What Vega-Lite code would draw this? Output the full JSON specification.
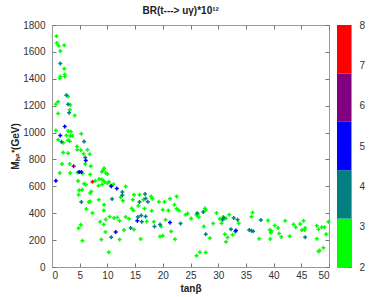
{
 "$schema": "https://vega.github.io/schema/vega-lite/v6.json",
 "background": "white",
 "padding": {"left": 10, "top": 5, "right": 4, "bottom": 0},
 "title": {"text": "BR(t---> uγ)*10¹²", "fontSize": 10, "fontWeight": "bold", "font": "Liberation Sans", "color": "#222", "anchor": "middle", "dx": -7, "offset": 4},
 "config": {"view": {"stroke": "#999", "strokeWidth": 1}, "font": "Liberation Sans", "concat": {"spacing": 2},
   "axis": {"labelFont": "Liberation Sans", "labelFontSize": 10, "labelColor": "#333", "tickColor": "#777", "domainColor": "#999", "grid": false, "titleFont": "Liberation Sans", "titleFontSize": 10, "titleFontWeight": "bold", "titleColor": "#222"}},
 "hconcat": [
  {
   "width": 277, "height": 242,
   "data": {"values": [
{"tanb":0.8,"mh":1716,"c":"g"},{"tanb":0.85,"mh":1666,"c":"g"},{"tanb":1.2,"mh":1646,"c":"g"},{"tanb":2.2,"mh":1649,"c":"g"},{"tanb":1.5,"mh":1606,"c":"g"},
{"tanb":2.2,"mh":1474,"c":"g"},{"tanb":2.3,"mh":1432,"c":"g"},{"tanb":2.3,"mh":1417,"c":"g"},{"tanb":1.5,"mh":1417,"c":"g"},{"tanb":1.4,"mh":1404,"c":"g"},
{"tanb":2.9,"mh":1268,"c":"g"},{"tanb":1.1,"mh":1230,"c":"g"},{"tanb":0.7,"mh":1210,"c":"g"},{"tanb":3.3,"mh":1205,"c":"g"},{"tanb":3.2,"mh":1170,"c":"g"},{"tanb":1.1,"mh":1141,"c":"g"},
{"tanb":4.1,"mh":1126,"c":"g"},{"tanb":0.7,"mh":1016,"c":"g"},{"tanb":2.9,"mh":1011,"c":"g"},{"tanb":3.4,"mh":1006,"c":"g"},{"tanb":5.3,"mh":991,"c":"g"},{"tanb":2.6,"mh":979,"c":"g"},{"tanb":3.3,"mh":974,"c":"g"},{"tanb":3.7,"mh":974,"c":"g"},
{"tanb":1.1,"mh":946,"c":"g"},{"tanb":2.0,"mh":924,"c":"g"},{"tanb":2.9,"mh":943,"c":"g"},{"tanb":3.2,"mh":936,"c":"g"},{"tanb":4.5,"mh":896,"c":"g"},{"tanb":4.55,"mh":872,"c":"g"},{"tanb":5.2,"mh":869,"c":"g"},{"tanb":6.4,"mh":872,"c":"g"},
{"tanb":2.0,"mh":852,"c":"g"},{"tanb":2.9,"mh":846,"c":"g"},{"tanb":5.7,"mh":842,"c":"g"},{"tanb":6.8,"mh":839,"c":"g"},{"tanb":6.0,"mh":767,"c":"g"},{"tanb":1.8,"mh":767,"c":"g"},{"tanb":3.2,"mh":767,"c":"g"},
{"tanb":1.4,"mh":700,"c":"g"},{"tanb":3.3,"mh":700,"c":"g"},{"tanb":4.6,"mh":702,"c":"g"},{"tanb":5.5,"mh":695,"c":"g"},{"tanb":7.0,"mh":750,"c":"g"},{"tanb":6.9,"mh":688,"c":"g"},
{"tanb":9.4,"mh":735,"c":"g"},{"tanb":9.2,"mh":719,"c":"g"},{"tanb":9.0,"mh":708,"c":"g"},{"tanb":9.7,"mh":700,"c":"g"},{"tanb":10.0,"mh":692,"c":"g"},
{"tanb":4.7,"mh":640,"c":"g"},{"tanb":7.8,"mh":642,"c":"g"},{"tanb":8.5,"mh":655,"c":"g"},{"tanb":8.9,"mh":650,"c":"g"},{"tanb":9.2,"mh":645,"c":"g"},{"tanb":5.8,"mh":620,"c":"g"},{"tanb":6.1,"mh":613,"c":"g"},{"tanb":8.4,"mh":605,"c":"g"},{"tanb":9.05,"mh":613,"c":"g"},{"tanb":9.5,"mh":633,"c":"g"},{"tanb":10.0,"mh":625,"c":"g"},
{"tanb":10.3,"mh":635,"c":"g"},{"tanb":11.1,"mh":615,"c":"g"},{"tanb":10.6,"mh":607,"c":"g"},{"tanb":13.3,"mh":598,"c":"g"},
{"tanb":4.9,"mh":570,"c":"g"},{"tanb":5.45,"mh":575,"c":"g"},{"tanb":7.1,"mh":562,"c":"g"},{"tanb":6.9,"mh":550,"c":"g"},{"tanb":4.8,"mh":538,"c":"g"},{"tanb":6.65,"mh":483,"c":"g"},{"tanb":6.9,"mh":488,"c":"g"},{"tanb":8.45,"mh":500,"c":"g"},{"tanb":9.4,"mh":463,"c":"g"},
{"tanb":12.4,"mh":518,"c":"g"},{"tanb":12.8,"mh":493,"c":"g"},{"tanb":14.8,"mh":538,"c":"g"},{"tanb":15.8,"mh":538,"c":"g"},{"tanb":14.6,"mh":500,"c":"g"},{"tanb":16.5,"mh":500,"c":"g"},{"tanb":17.9,"mh":525,"c":"g"},{"tanb":18.1,"mh":508,"c":"g"},
{"tanb":16.7,"mh":436,"c":"g"},{"tanb":15.6,"mh":456,"c":"g"},{"tanb":14.4,"mh":436,"c":"g"},{"tanb":6.2,"mh":431,"c":"g"},{"tanb":7.3,"mh":401,"c":"g"},{"tanb":9.35,"mh":421,"c":"g"},
{"tanb":10.4,"mh":373,"c":"g"},{"tanb":11.2,"mh":364,"c":"g"},{"tanb":11.8,"mh":369,"c":"g"},{"tanb":12.2,"mh":344,"c":"g"},{"tanb":13.9,"mh":359,"c":"g"},{"tanb":17.1,"mh":338,"c":"g"},{"tanb":18.4,"mh":336,"c":"g"},{"tanb":20.5,"mh":351,"c":"g"},
{"tanb":18.0,"mh":418,"c":"g"},{"tanb":19.3,"mh":486,"c":"g"},{"tanb":20.3,"mh":483,"c":"g"},{"tanb":21.3,"mh":508,"c":"g"},{"tanb":22.5,"mh":525,"c":"g"},{"tanb":22.1,"mh":463,"c":"g"},
{"tanb":22.5,"mh":433,"c":"g"},{"tanb":22.9,"mh":421,"c":"g"},{"tanb":24.1,"mh":388,"c":"g"},{"tanb":24.5,"mh":398,"c":"g"},{"tanb":25.1,"mh":361,"c":"g"},{"tanb":20.0,"mh":426,"c":"g"},{"tanb":21.0,"mh":421,"c":"g"},
{"tanb":19.7,"mh":301,"c":"g"},{"tanb":19.5,"mh":226,"c":"g"},{"tanb":20.0,"mh":232,"c":"g"},{"tanb":21.5,"mh":264,"c":"g"},{"tanb":22.2,"mh":207,"c":"g"},{"tanb":14.7,"mh":421,"c":"g"},{"tanb":13.3,"mh":371,"c":"g"},
{"tanb":9.7,"mh":353,"c":"g"},{"tanb":8.7,"mh":336,"c":"g"},{"tanb":9.35,"mh":316,"c":"g"},{"tanb":5.2,"mh":314,"c":"g"},{"tanb":4.8,"mh":289,"c":"g"},{"tanb":9.65,"mh":261,"c":"g"},{"tanb":13.0,"mh":276,"c":"g"},{"tanb":14.8,"mh":279,"c":"g"},
{"tanb":8.9,"mh":204,"c":"g"},{"tanb":12.2,"mh":204,"c":"g"},{"tanb":16.0,"mh":209,"c":"g"},{"tanb":5.5,"mh":196,"c":"g"},{"tanb":10.25,"mh":110,"c":"g"},
{"tanb":26.1,"mh":386,"c":"g"},{"tanb":26.3,"mh":394,"c":"g"},{"tanb":26.5,"mh":371,"c":"g"},{"tanb":27.6,"mh":436,"c":"g"},{"tanb":27.75,"mh":424,"c":"g"},{"tanb":27.4,"mh":301,"c":"g"},{"tanb":28.5,"mh":214,"c":"g"},{"tanb":29.1,"mh":323,"c":"g"},
{"tanb":29.7,"mh":401,"c":"g"},{"tanb":30.3,"mh":359,"c":"g"},{"tanb":30.9,"mh":371,"c":"g"},{"tanb":30.6,"mh":326,"c":"g"},{"tanb":31.4,"mh":361,"c":"g"},{"tanb":32.0,"mh":388,"c":"g"},{"tanb":31.2,"mh":244,"c":"g"},{"tanb":31.7,"mh":219,"c":"g"},{"tanb":31.4,"mh":187,"c":"g"},
{"tanb":32.6,"mh":239,"c":"g"},{"tanb":33.7,"mh":326,"c":"g"},{"tanb":26.1,"mh":84,"c":"g"},{"tanb":26.7,"mh":110,"c":"g"},{"tanb":27.75,"mh":107,"c":"g"},
{"tanb":36.0,"mh":374,"c":"g"},{"tanb":36.2,"mh":406,"c":"g"},{"tanb":37.4,"mh":211,"c":"g"},{"tanb":39.0,"mh":346,"c":"g"},{"tanb":39.4,"mh":209,"c":"g"},{"tanb":39.3,"mh":276,"c":"g"},{"tanb":39.6,"mh":269,"c":"g"},{"tanb":39.5,"mh":254,"c":"g"},
{"tanb":40.2,"mh":309,"c":"g"},{"tanb":40.8,"mh":291,"c":"g"},{"tanb":41.0,"mh":249,"c":"g"},{"tanb":41.4,"mh":224,"c":"g"},{"tanb":42.1,"mh":344,"c":"g"},{"tanb":42.9,"mh":229,"c":"g"},{"tanb":43.6,"mh":316,"c":"g"},{"tanb":44.0,"mh":296,"c":"g"},
{"tanb":44.8,"mh":319,"c":"g"},{"tanb":45.1,"mh":276,"c":"g"},{"tanb":45.4,"mh":344,"c":"g"},{"tanb":45.6,"mh":276,"c":"g"},{"tanb":45.7,"mh":291,"c":"g"},{"tanb":47.8,"mh":306,"c":"g"},{"tanb":48.1,"mh":281,"c":"g"},{"tanb":47.8,"mh":211,"c":"g"},
{"tanb":48.7,"mh":296,"c":"g"},{"tanb":49.2,"mh":296,"c":"g"},{"tanb":49.5,"mh":244,"c":"g"},{"tanb":49.9,"mh":336,"c":"g"},{"tanb":48.1,"mh":115,"c":"g"},{"tanb":48.3,"mh":122,"c":"g"},{"tanb":49.0,"mh":144,"c":"g"},
{"tanb":1.5,"mh":1514,"c":"t"},{"tanb":2.6,"mh":1277,"c":"t"},{"tanb":2.9,"mh":1210,"c":"t"},{"tanb":3.1,"mh":1148,"c":"t"},{"tanb":1.7,"mh":931,"c":"t"},{"tanb":5.8,"mh":934,"c":"t"},{"tanb":6.0,"mh":814,"c":"t"},
{"tanb":5.3,"mh":483,"c":"t"},{"tanb":10.85,"mh":505,"c":"t"},{"tanb":12.7,"mh":558,"c":"t"},{"tanb":12.7,"mh":533,"c":"t"},{"tanb":16.8,"mh":543,"c":"t"},{"tanb":16.9,"mh":510,"c":"t"},{"tanb":15.8,"mh":483,"c":"t"},{"tanb":17.3,"mh":486,"c":"t"},
{"tanb":15.5,"mh":371,"c":"t"},{"tanb":16.1,"mh":383,"c":"t"},{"tanb":16.9,"mh":376,"c":"t"},{"tanb":16.2,"mh":336,"c":"t"},{"tanb":18.5,"mh":301,"c":"t"},{"tanb":19.5,"mh":316,"c":"t"},{"tanb":23.2,"mh":323,"c":"t"},{"tanb":14.2,"mh":291,"c":"t"},{"tanb":10.7,"mh":222,"c":"t"},
{"tanb":26.2,"mh":400,"c":"t"},{"tanb":27.3,"mh":409,"c":"t"},{"tanb":27.75,"mh":244,"c":"t"},{"tanb":30.8,"mh":351,"c":"t"},{"tanb":31.0,"mh":366,"c":"t"},{"tanb":32.3,"mh":281,"c":"t"},{"tanb":32.8,"mh":364,"c":"t"},{"tanb":33.1,"mh":264,"c":"t"},{"tanb":33.5,"mh":351,"c":"t"},
{"tanb":35.6,"mh":276,"c":"t"},{"tanb":36.0,"mh":269,"c":"t"},{"tanb":36.3,"mh":266,"c":"t"},{"tanb":37.7,"mh":349,"c":"t"},{"tanb":45.7,"mh":222,"c":"t"},
{"tanb":2.3,"mh":1045,"c":"b"},{"tanb":1.5,"mh":979,"c":"b"},{"tanb":6.1,"mh":792,"c":"b"},{"tanb":4.9,"mh":707,"c":"b"},{"tanb":5.3,"mh":707,"c":"b"},{"tanb":0.7,"mh":642,"c":"b"},{"tanb":10.7,"mh":600,"c":"b"},{"tanb":11.7,"mh":583,"c":"b"},
{"tanb":15.4,"mh":344,"c":"b"},{"tanb":21.3,"mh":331,"c":"b"},{"tanb":11.5,"mh":261,"c":"b"},{"tanb":33.2,"mh":271,"c":"b"},
{"tanb":3.9,"mh":750,"c":"p"},
{"tanb":7.3,"mh":635,"c":"r"}
   ]},
   "layer": [
    {
     "mark": {"type": "point", "shape": "M-1,0L1,0M0,-1L0,1", "filled": false, "size": 16, "strokeWidth": 1.5, "opacity": 1},
     "encoding": {
      "x": {"field": "tanb", "type": "quantitative", "scale": {"domain": [0, 50], "nice": false}, "axis": {"values": [0,5,10,15,20,25,30,35,40,45,50], "tickSize": -4, "labelPadding": 7, "title": "tanβ", "titlePadding": 3}},
      "y": {"field": "mh", "type": "quantitative", "scale": {"domain": [0, 1800], "nice": false}, "axis": {"values": [0,200,400,600,800,1000,1200,1400,1600,1800], "format": "d", "tickSize": -4, "labelPadding": 11, "title": "Mₕ₂⁺(GeV)", "titlePadding": 2}},
      "color": {"field": "c", "type": "nominal", "scale": {"domain": ["g","t","b","p","r"], "range": ["#00ff00","#008080","#0000ff","#800080","#ff0000"]}, "legend": null}
     }
    },
    {
     "mark": {"type": "point", "opacity": 0},
     "encoding": {
      "x": {"field": "tanb", "type": "quantitative", "axis": {"orient": "top", "values": [0,5,10,15,20,25,30,35,40,45,50], "tickSize": -4, "labels": false, "domain": false, "title": null}},
      "y": {"field": "mh", "type": "quantitative", "axis": {"orient": "right", "values": [0,200,400,600,800,1000,1200,1400,1600,1800], "tickSize": -4, "labels": false, "domain": false, "title": null}}
     }
    }
   ],
   "resolve": {"axis": {"x": "independent", "y": "independent"}}
  },
  {
   "width": 14, "height": 242,
   "data": {"values": [
     {"lo": 2, "hi": 3.2, "c": "g"}, {"lo": 3.2, "hi": 4.4, "c": "t"}, {"lo": 4.4, "hi": 5.6, "c": "b"}, {"lo": 5.6, "hi": 6.8, "c": "p"}, {"lo": 6.8, "hi": 8, "c": "r"}
   ]},
   "mark": {"type": "rect"},
   "encoding": {
    "y": {"field": "lo", "type": "quantitative", "scale": {"domain": [2, 8], "nice": false}, "axis": {"orient": "right", "values": [2,3,4,5,6,7,8], "tickSize": -3, "labelPadding": 11, "domain": false, "title": null}},
    "y2": {"field": "hi"},
    "color": {"field": "c", "type": "nominal", "legend": null}
   }
  }
 ]
}
